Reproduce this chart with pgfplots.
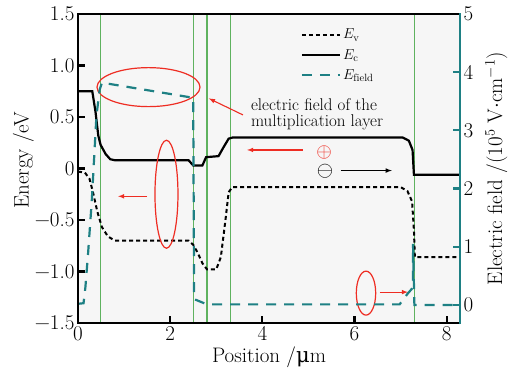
\documentclass[border=0pt]{standalone}
\usepackage{fontspec}
\usepackage{pgfplots}
\pgfplotsset{compat=1.18}
\newfontfamily\dejavu{DejaVu Serif}
\definecolor{tealc}{RGB}{30,128,132}
\definecolor{greenc}{RGB}{95,178,95}
\definecolor{redc}{RGB}{238,45,35}
\definecolor{bgc}{RGB}{246,246,246}
\begin{document}
\begin{tikzpicture}
\useasboundingbox (-78pt,-57pt) rectangle (433pt,323pt);
\begin{axis}[
  at={(0,0)}, anchor=south west,
  scale only axis, width=382pt, height=309pt,
  xmin=0, xmax=8.29, ymin=-1.5, ymax=1.5,
  axis background/.style={fill=bgc},
  axis line style={draw=none},
  xtick={0,2,4,6,8}, xticklabels={0,2,4,6,8},
  ytick={-1.5,-1,-0.5,0,0.5,1,1.5},
  yticklabels={−1.5,−1.0,−0.5,0,0.5,1.0,1.5},
  xtick pos=bottom, ytick pos=left,
  tick align=inside, major tick length=0pt,
  tick label style={font=\fontsize{21}{21}\selectfont},
  xlabel={Position /{\dejavu μ}m},
  ylabel={Energy /eV},
  label style={font=\fontsize{21}{21}\selectfont},
  xlabel style={at={(axis description cs:0.5,-0.112)}, anchor=center},
  ylabel style={at={(axis description cs:-0.143,0.527)}, anchor=center},
  legend style={at={(axis description cs:0.575,0.965)}, anchor=north west,
    draw=none, fill=none, font=\fontsize{15}{15}\selectfont, row sep=5pt},
  legend cell align=left,
  legend image code/.code={\draw[#1] (0pt,0pt) -- (38pt,0pt);},
  clip mode=individual,
]
% green layer boundaries
\addplot[greenc, line width=1.1pt, forget plot] coordinates {(0.48,-1.5) (0.48,1.5)};
\addplot[greenc, line width=1.1pt, forget plot] coordinates {(2.5,-1.5) (2.5,1.5)};
\addplot[greenc, line width=1.1pt, forget plot] coordinates {(2.8,-1.5) (2.8,1.5)};
\addplot[greenc, line width=1.1pt, forget plot] coordinates {(3.3,-1.5) (3.3,1.5)};
\addplot[greenc, line width=1.1pt, forget plot] coordinates {(7.3,-1.5) (7.3,1.5)};
% Ev
\addplot[black, line width=2pt, dash pattern=on 4pt off 3pt] coordinates {
(0,-0.03) (0.15,-0.04) (0.25,-0.1) (0.33,-0.24) (0.42,-0.42) (0.52,-0.57)
(0.65,-0.66) (0.8,-0.7) (2.4,-0.7) (2.5,-0.74) (2.6,-0.82) (2.7,-0.92)
(2.8,-0.98) (3.0,-0.98) (3.1,-0.86) (3.2,-0.5) (3.27,-0.23) (3.35,-0.18)
(7.0,-0.18) (7.15,-0.22) (7.25,-0.32) (7.29,-0.6) (7.31,-0.86) (8.29,-0.86)};
\addlegendentry{$E_\mathrm{v}$}
% Ec
\addplot[black, line width=2.2pt] coordinates {
(0,0.75) (0.31,0.75) (0.38,0.55) (0.44,0.32) (0.49,0.23) (0.6,0.14)
(0.7,0.09) (0.8,0.08) (2.4,0.08) (2.5,0.03) (2.7,0.03) (2.78,0.11)
(3.05,0.12) (3.15,0.2) (3.27,0.29) (3.35,0.3) (7.05,0.3) (7.18,0.27)
(7.26,0.18) (7.29,-0.06) (8.29,-0.06)};
\addlegendentry{$E_\mathrm{c}$}
\addlegendimage{tealc, line width=2.2pt, dash pattern=on 10pt off 8pt}
\addlegendentry{$E_\mathrm{field}$}
% annotations
\draw[redc, line width=1.2pt] (axis cs:1.53,0.79) ellipse [x radius=51.5pt, y radius=19.5pt];
\draw[redc, line width=1.2pt] (axis cs:1.92,-0.25) ellipse [x radius=11.5pt, y radius=54pt];
\draw[redc, line width=1.2pt] (axis cs:6.25,-1.21) ellipse [x radius=9.7pt, y radius=22pt];
\draw[redc, line width=1.1pt, -latex] (axis cs:3.58,0.52) -- (axis cs:2.84,0.68);
\draw[redc, line width=1.1pt, -latex] (axis cs:1.5,-0.27) -- (axis cs:0.87,-0.27);
\draw[redc, line width=1.1pt, -latex] (axis cs:4.88,0.18) -- (axis cs:3.67,0.18);
\draw[redc, line width=1.1pt, -latex] (axis cs:6.55,-1.2) -- (axis cs:7.16,-1.2);
\draw[black, line width=1.1pt, -latex] (axis cs:5.7,-0.02) -- (axis cs:6.81,-0.02);
\node[redc, scale=2, inner sep=0pt] at (axis cs:5.34,0.155) {$\oplus$};
\node[black, scale=2.1, inner sep=0pt] at (axis cs:5.36,-0.03) {$\ominus$};
\node[anchor=west, align=left, font=\fontsize{17}{16}\selectfont, inner sep=0pt]
  at (axis cs:3.75,0.53) {electric field of the\\ multiplication layer};
\end{axis}
\begin{axis}[
  at={(0,0)}, anchor=south west,
  scale only axis, width=382pt, height=309pt,
  xmin=0, xmax=8.29, ymin=-0.31, ymax=5,
  axis x line=none, axis y line*=right,
  y axis line style={draw=none},
  ytick={0,1,2,3,4,5},
  yticklabels={0,1,2,3,4,5},
  tick align=inside, major tick length=0pt,
  tick label style={font=\fontsize{21}{21}\selectfont, black},
  ylabel={Electric field /(10$^5$ V$\cdot$cm$^{-1}$)},
  label style={font=\fontsize{21}{21}\selectfont},
  ylabel style={at={(axis description cs:1.095,0.5)}, anchor=center, rotate=0},
]
\addplot[tealc, line width=2.2pt, dash pattern=on 10pt off 8pt] coordinates {
(0,0.02) (0.12,0.03) (0.16,0.3) (0.22,0.9) (0.3,1.8) (0.4,3.25) (0.47,3.7)
(0.52,3.82) (2.5,3.56) (2.52,0.1) (2.8,0.01) (6.98,0.01) (7.16,0.2)
(7.27,0.3) (7.27,1.05) (7.3,0) (8.29,0)};
\end{axis}
% frame and ticks
\foreach \v in {-1,-0.5,0,0.5,1}
  \draw[black, line width=2.2pt] (0pt,{(\v+1.5)*103pt}) -- ++(7pt,0pt);
\foreach \v in {2,4,6,8}
  \draw[black, line width=2.2pt] ({\v*46.08pt},0pt) -- ++(0pt,7pt);
\foreach \v in {0,1,2,3,4}
  \draw[tealc, line width=2.2pt] (382pt,{(\v+0.31)*58.19pt}) -- ++(-7pt,0pt);
\draw[black, line width=2.8pt, line cap=rect] (380pt,309pt) -- (0pt,309pt) -- (0pt,0pt) -- (380pt,0pt);
\draw[tealc, line width=2.8pt] (382pt,-1.4pt) -- (382pt,310.4pt);
\end{tikzpicture}
\end{document}
